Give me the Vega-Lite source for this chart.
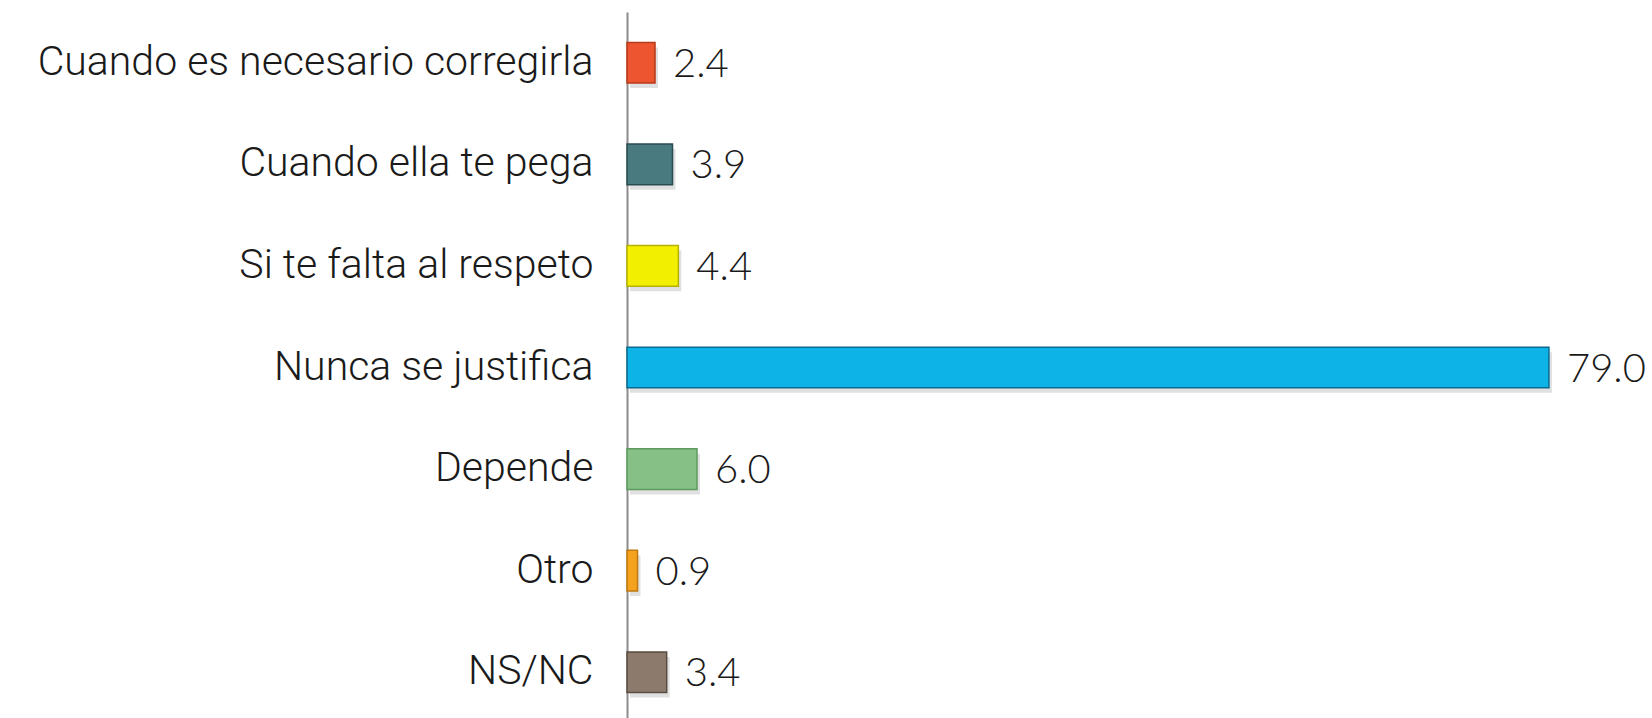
{
  "$schema": "https://vega.github.io/schema/vega-lite/v6.json",
  "autosize": {"type": "none"},
  "padding": {"left": 627, "top": 12, "right": 0, "bottom": 0},
  "width": 1025,
  "height": 711,
  "background": "white",
  "config": {"view": {"stroke": null}},
  "data": {"values": [
    {"cat": "Cuando es necesario corregirla", "val": 2.4, "color": "#EC5530", "dark": "#B8391A"},
    {"cat": "Cuando ella te pega", "val": 3.9, "color": "#487A80", "dark": "#2A4C50"},
    {"cat": "Si te falta al respeto", "val": 4.4, "color": "#F2F000", "dark": "#B8B000"},
    {"cat": "Nunca se justifica", "val": 79.0, "color": "#0DB2E6", "dark": "#0A6A90"},
    {"cat": "Depende", "val": 6.0, "color": "#86C086", "dark": "#5E9A5E"},
    {"cat": "Otro", "val": 0.9, "color": "#F5A21E", "dark": "#C07810"},
    {"cat": "NS/NC", "val": 3.4, "color": "#8C7B6C", "dark": "#5A4C40"}
  ]},
  "encoding": {
    "y": {"field": "cat", "type": "nominal", "sort": null,
      "scale": {"paddingInner": 0.6, "paddingOuter": 0.3},
      "axis": {"title": null, "domain": true, "domainColor": "#8C8C8C", "domainWidth": 2, "ticks": false,
        "labelFont": "Roboto", "labelFontWeight": 300, "labelFontSize": 41, "labelColor": "#1A1A1A", "labelPadding": 34, "labelLimit": 700}},
    "x": {"field": "val", "type": "quantitative", "scale": {"domain": [0, 87.83]}, "axis": null}
  },
  "layer": [
    {"mark": {"type": "bar", "color": "#000000", "opacity": 0.12, "xOffset": 3, "yOffset": 5},
     "encoding": {}},
    {"mark": {"type": "bar", "strokeWidth": 1.5},
     "encoding": {"color": {"field": "color", "type": "nominal", "scale": null},
       "stroke": {"field": "dark", "type": "nominal", "scale": null}}},
    {"mark": {"type": "text", "align": "left", "baseline": "middle", "dx": 18, "dy": 2, "font": "Lato", "fontWeight": 300, "fontSize": 40, "color": "#1A1A1A"},
     "encoding": {"text": {"field": "val", "type": "quantitative", "format": ".1f"}}}
  ]
}
